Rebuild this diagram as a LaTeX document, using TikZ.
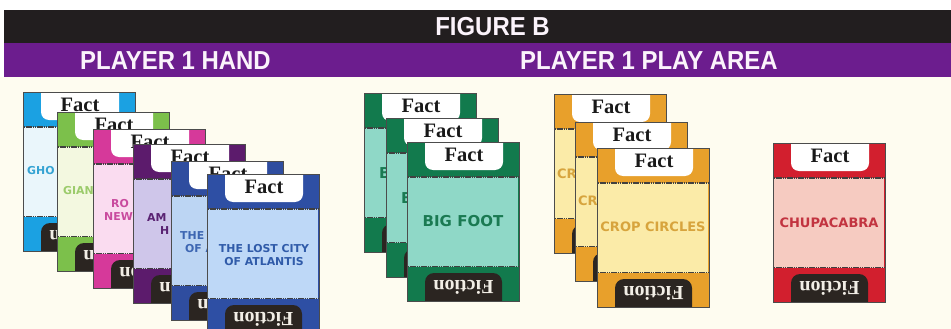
\documentclass[tikz,border=0pt]{standalone}
\usepackage{fontspec}
\newfontfamily\headfont[FakeStretch=0.92]{Liberation Sans}
\newfontfamily\factfont{Liberation Serif}
\newfontfamily\titlefont{DejaVu Sans}
\definecolor{bgcream}{HTML}{FEFCF0}
\definecolor{bandblack}{HTML}{221E1F}
\definecolor{bandpurple}{HTML}{6C1D8E}
\definecolor{headwhite}{HTML}{FBF3FB}
\definecolor{fictab}{HTML}{2B2521}
\definecolor{fictext}{HTML}{F2EEE6}
\definecolor{cyF}{HTML}{1BA1E2}\definecolor{cyP}{HTML}{EAF6FB}\definecolor{cyT}{HTML}{35A3D3}
\definecolor{grF}{HTML}{7CC04B}\definecolor{grP}{HTML}{F3F8E0}\definecolor{grT}{HTML}{9BCB6B}
\definecolor{mgF}{HTML}{D6399A}\definecolor{mgP}{HTML}{FADCF0}\definecolor{mgT}{HTML}{C94A9E}
\definecolor{puF}{HTML}{5C1B6C}\definecolor{puP}{HTML}{CFC6EA}\definecolor{puT}{HTML}{5A2272}
\definecolor{bfF}{HTML}{2F4D9F}\definecolor{bfP}{HTML}{BCD5F3}\definecolor{bfT}{HTML}{3D66B2}
\definecolor{bsF}{HTML}{2E4FA4}\definecolor{bsP}{HTML}{BED8F7}\definecolor{bsT}{HTML}{305BA9}
\definecolor{fgF}{HTML}{127A4D}\definecolor{fgP}{HTML}{8FD8C7}\definecolor{fgT}{HTML}{1A7A52}
\definecolor{orF}{HTML}{E8A02B}\definecolor{orP}{HTML}{FBEBA8}\definecolor{orT}{HTML}{D7A43D}
\definecolor{rdF}{HTML}{D21F2E}\definecolor{rdP}{HTML}{F6CBC1}\definecolor{rdT}{HTML}{C23440}
\tikzset{
  headtxt/.style={font=\headfont\bfseries\fontsize{26}{28}\selectfont, text=headwhite, inner sep=0},
  facttxt/.style={font=\factfont\bfseries\fontsize{20.5}{22}\selectfont, text=black!90, inner sep=0},
  fictxt/.style={font=\factfont\bfseries\fontsize{20}{22}\selectfont, text=fictext, inner sep=0, rotate=180},
  sepline/.style={draw=black!75, line width=1.3pt, dash pattern=on 1.6pt off 0.6pt},
  cardoutline/.style={draw=black!70, line width=0.6pt},
  handtitle/.style={font=\titlefont\bfseries\fontsize{10.9}{13}\selectfont, inner sep=0, anchor=west},
  bigtitle/.style={font=\titlefont\bfseries\fontsize{13}{15}\selectfont, inner sep=0},
}
% #1 x, #2 y, #3 frame, #4 panel, #5 name
\newcommand\drawcard[5]{%
  \begin{scope}[shift={(#1,#2)}]
    \fill[#3] (0,0) rectangle (112,159);
    \begin{scope}
      \clip (0.8,0.8) rectangle (111.2,158.2);
      \fill[white, rounded corners=8] (18,-10) rectangle (96,28);
      \fill[fictab, rounded corners=9] (18,131) rectangle (95,175);
    \end{scope}
    \fill[#4] (0.8,35) rectangle (111.2,124.5);
    \draw[sepline] (0.8,35) -- (111.2,35);
    \draw[sepline] (0.8,124.5) -- (111.2,124.5);
    \draw[cardoutline] (0,0) rectangle (112,159);
    \node[facttxt] (#5fact) at (57,13) {Fact};
    \node[fictxt, anchor=base] (#5fic) at (56.5,138) {Fiction};
  \end{scope}}
\begin{document}
\begin{tikzpicture}[x=1pt,y=-1pt]
\useasboundingbox (0,0) rectangle (951,329);
\fill[white] (0,0) rectangle (951,329);
\fill[bgcream] (0,77) rectangle (951,329);
\fill[bandblack] (4,10) rectangle (951,43.5);
\fill[bandpurple] (4,43.5) rectangle (951,77.5);
\node[headtxt] (figb) at (492.5,27) {FIGURE B};
\node[headtxt, anchor=west] (hand) at (80,61) {PLAYER 1 HAND};
\node[headtxt, anchor=west] (area) at (520,61) {PLAYER 1 PLAY AREA};
% hand
\drawcard{23}{92}{cyF}{cyP}{h1}
\node[handtitle, text=cyT] (h1t) at (27,171) {GHO};
\drawcard{57}{112}{grF}{grP}{h2}
\node[handtitle, text=grT] (h2t) at (63,191) {GIAN};
\drawcard{93}{129}{mgF}{mgP}{h3}
\node[handtitle, text=mgT] (h3a) at (111,204) {RO};
\node[handtitle, text=mgT] (h3b) at (104,217) {NEW};
\drawcard{133}{144}{puF}{puP}{h4}
\node[handtitle, text=puT] (h4a) at (147,218) {AM};
\node[handtitle, text=puT] (h4b) at (160,231) {H};
\drawcard{171}{161}{bfF}{bfP}{h5}
\node[handtitle, text=bfT] (h5a) at (180,236) {THE};
\node[handtitle, text=bfT] (h5b) at (185,249) {OF A};
\drawcard{207}{174}{bsF}{bsP}{h6}
\node[handtitle, text=bsT, anchor=center, align=center] (h6t) at (264,255.5) {THE LOST CITY\\OF ATLANTIS};
% big foot
\drawcard{364}{93}{fgF}{fgP}{b1}
\node[bigtitle, text=fgT, anchor=west, font=\titlefont\bfseries\fontsize{15}{17}\selectfont] (b1t) at (379,173) {B};
\drawcard{386}{118}{fgF}{fgP}{b2}
\node[bigtitle, text=fgT, anchor=west, font=\titlefont\bfseries\fontsize{15}{17}\selectfont] (b2t) at (401,198) {B};
\drawcard{407}{142}{fgF}{fgP}{b3}
\node[bigtitle, text=fgT, font=\titlefont\bfseries\fontsize{15}{17}\selectfont] (b3t) at (463,221) {BIG FOOT};
% crop circles
\drawcard{554}{94}{orF}{orP}{c1}
\node[bigtitle, text=orT, anchor=west] (c1t) at (557,174) {CR};
\drawcard{575}{122}{orF}{orP}{c2}
\node[bigtitle, text=orT, anchor=west] (c2t) at (578,201) {CR};
\drawcard{597}{148}{orF}{orP}{c3}
\node[bigtitle, text=orT] (c3t) at (653,227) {CROP CIRCLES};
% chupacabra
\drawcard{773}{143}{rdF}{rdP}{r1}
\node[bigtitle, text=rdT] (r1t) at (829,223) {CHUPACABRA};
\end{tikzpicture}
\end{document}
